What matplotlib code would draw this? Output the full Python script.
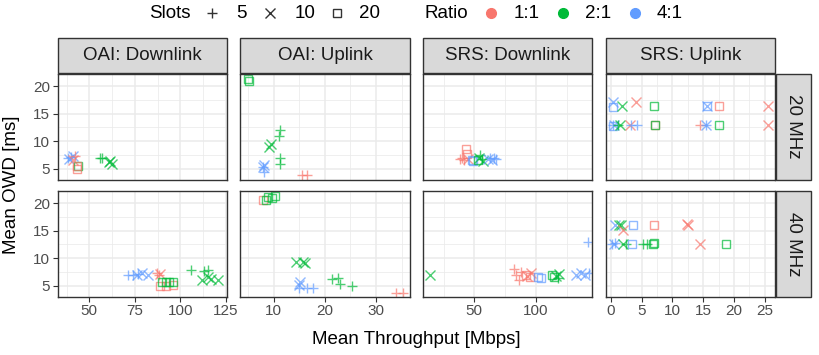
import matplotlib.pyplot as plt
from matplotlib.lines import Line2D
from matplotlib.patches import Rectangle
from matplotlib.ticker import MultipleLocator

plt.rcParams['font.family'] = ['Liberation Sans', 'DejaVu Sans']

systems = ['OAI', 'OAI', 'SRS', 'SRS']
links = ['Downlink', 'Uplink', 'Downlink', 'Uplink']
bandwidths = ['20 MHz', '40 MHz']
slot_levels = [5, 10, 20]
ratio_levels = ['1:1', '2:1', '4:1']
ratio_colors = ['#F8766D', '#00BA38', '#619CFF']

# (slots, ratio, mean throughput [Mbps], mean OWD [ms]) per facet
oai_dl_20 = [(5, '4:1', 38, 7.0), (5, '4:1', 40, 7.1), (10, '4:1', 39, 6.8), (10, '4:1', 41, 7.2),
             (5, '1:1', 42, 7.3), (10, '1:1', 41, 6.6), (20, '1:1', 43, 5.0), (20, '2:1', 43.5, 5.5),
             (20, '1:1', 43, 5.4), (5, '2:1', 56, 7.0), (5, '2:1', 57, 6.9), (10, '2:1', 61, 6.2),
             (10, '2:1', 62.5, 5.9), (10, '2:1', 61.5, 6.4)]
oai_ul_20 = [(20, '2:1', 5.1, 21.2), (20, '2:1', 5.2, 21.0), (5, '2:1', 11.3, 12.0), (5, '2:1', 11.0, 11.0),
             (10, '2:1', 9.2, 9.0), (10, '2:1', 9.4, 9.4), (5, '2:1', 11.2, 6.9), (5, '2:1', 11.2, 5.9),
             (10, '4:1', 8.0, 5.3), (10, '4:1', 8.2, 5.7), (5, '4:1', 8.1, 4.4), (5, '4:1', 8.0, 5.2),
             (5, '1:1', 15.6, 3.8), (5, '1:1', 16.6, 3.8)]
srs_dl_20 = [(20, '1:1', 43, 8.5), (20, '1:1', 44, 7.6), (5, '1:1', 38, 6.8), (5, '1:1', 40, 7.0),
             (5, '1:1', 42, 6.6), (10, '1:1', 45, 6.8), (20, '4:1', 48, 6.6), (20, '4:1', 49, 6.3),
             (20, '2:1', 53, 6.5), (5, '2:1', 55, 7.5), (5, '2:1', 56, 6.8), (10, '2:1', 57, 6.4),
             (10, '2:1', 54, 6.9), (10, '4:1', 61, 6.8), (10, '4:1', 64, 6.5), (5, '4:1', 66, 6.9),
             (5, '4:1', 68, 6.7), (5, '4:1', 63, 7.0)]
srs_ul_20 = [(10, '4:1', 0.3, 17.1), (20, '4:1', 0.4, 16.2), (10, '2:1', 1.8, 16.3), (10, '1:1', 4.0, 17.1),
             (20, '2:1', 7.0, 16.3), (20, '4:1', 15.6, 16.3), (10, '4:1', 15.6, 16.3), (20, '1:1', 17.6, 16.3),
             (10, '1:1', 25.5, 16.3), (5, '4:1', 0.4, 12.9), (10, '4:1', 0.5, 12.9), (20, '4:1', 0.3, 12.8),
             (10, '2:1', 1.5, 12.9), (5, '2:1', 1.2, 12.9), (10, '1:1', 3.1, 12.9), (5, '4:1', 4.2, 12.9),
             (5, '4:1', 3.2, 12.9), (20, '1:1', 7.1, 12.9), (20, '2:1', 7.1, 12.9), (5, '1:1', 14.5, 12.9),
             (5, '4:1', 15.5, 12.9), (10, '4:1', 15.5, 12.9), (20, '2:1', 17.6, 12.9), (10, '1:1', 25.5, 12.9)]
oai_dl_40 = [(5, '4:1', 71, 7.0), (5, '4:1', 74, 7.0), (5, '4:1', 77, 7.1), (10, '4:1', 76, 7.0),
             (10, '4:1', 79, 7.2), (10, '4:1', 82, 7.0), (5, '1:1', 87, 7.3), (5, '1:1', 88.5, 7.0),
             (10, '1:1', 89, 7.1), (20, '1:1', 89, 5.0), (20, '1:1', 92, 5.0), (20, '1:1', 96, 5.1),
             (20, '2:1', 90, 5.6), (20, '2:1', 92, 5.7), (20, '2:1', 94, 5.6), (20, '2:1', 96, 5.6),
             (5, '2:1', 106, 7.8), (5, '2:1', 113, 7.6), (5, '2:1', 115, 7.8), (10, '2:1', 112, 6.0),
             (10, '2:1', 115, 6.5), (10, '2:1', 117, 6.1), (10, '2:1', 121, 6.0)]
oai_ul_40 = [(20, '1:1', 8.0, 20.6), (20, '2:1', 8.5, 20.5), (20, '2:1', 9.0, 21.1), (20, '2:1', 10.2, 21.3),
             (20, '2:1', 9.6, 20.9), (10, '2:1', 14.4, 9.2), (10, '2:1', 15.7, 9.2), (10, '2:1', 16.2, 9.1),
             (10, '4:1', 15.2, 5.6), (10, '4:1', 15.0, 5.1), (5, '4:1', 15.0, 4.5), (5, '4:1', 16.5, 4.6),
             (5, '4:1', 17.6, 4.6), (5, '2:1', 21.5, 6.1), (5, '2:1', 22.5, 6.3), (5, '2:1', 23.0, 5.2),
             (5, '2:1', 25.3, 5.0), (5, '1:1', 34.0, 3.7), (5, '1:1', 35.2, 3.7)]
srs_dl_40 = [(10, '2:1', 14, 6.9), (5, '1:1', 82, 8.0), (5, '1:1', 84, 7.0), (5, '1:1', 86, 6.0),
             (5, '1:1', 88, 7.4), (20, '1:1', 92, 7.0), (20, '1:1', 95, 6.6), (10, '1:1', 93, 6.8),
             (10, '1:1', 96, 7.2), (20, '4:1', 102, 6.6), (20, '4:1', 104, 6.4), (20, '2:1', 113, 7.0),
             (20, '2:1', 115, 6.6), (10, '2:1', 116, 6.8), (10, '2:1', 119, 7.1), (5, '2:1', 118, 6.4),
             (10, '4:1', 133, 6.9), (10, '4:1', 137, 7.3), (10, '4:1', 140, 7.0), (5, '4:1', 143, 7.2),
             (5, '4:1', 142, 12.9)]
srs_ul_40 = [(10, '4:1', 0.6, 16.1), (10, '2:1', 1.3, 16.1), (10, '2:1', 1.6, 16.1), (20, '4:1', 3.5, 16.1),
             (20, '1:1', 7.0, 16.1), (10, '1:1', 12.3, 16.2), (10, '1:1', 12.6, 16.0), (10, '1:1', 2.0, 15.1),
             (5, '4:1', 0.1, 12.6), (5, '4:1', 0.6, 12.7), (10, '4:1', 0.5, 12.6), (5, '2:1', 2.5, 12.6),
             (5, '2:1', 5.2, 12.6), (5, '2:1', 5.8, 12.6), (10, '2:1', 1.9, 12.6), (20, '4:1', 3.4, 12.6),
             (20, '2:1', 6.8, 12.6), (20, '2:1', 7.0, 12.7), (10, '1:1', 14.5, 12.6), (20, '2:1', 18.7, 12.6)]

facets = [[oai_dl_20, oai_ul_20, srs_dl_20, srs_ul_20],
          [oai_dl_40, oai_ul_40, srs_dl_40, srs_ul_40]]

xlims = [(32.5, 125.7), (3.5, 36.6), (8.3, 146), (-0.86, 26.7)]
xmajor = [25, 10, 50, 5]
ylim = (3.0, 22.2)
markers = {5: '+', 10: 'x', 20: 's'}
msize = {5: 7.5, 10: 7, 20: 6.3}

W, H = 820, 355
fig = plt.figure(figsize=(W / 100, H / 100), dpi=100)


def box(x0, y0, x1, y1):
    return [x0 / W, 1 - y1 / H, (x1 - x0) / W, (y1 - y0) / H]


col_left = [57.5, 240.3, 423.0, 605.7]
col_w = 169.5
row_top = [74, 191]
row_h = 105.5
grey20 = '#333333'

for r in range(2):
    for c in range(4):
        ax = fig.add_axes(box(col_left[c], row_top[r], col_left[c] + col_w, row_top[r] + row_h))
        for s, rt, x, y in facets[r][c]:
            col = ratio_colors[ratio_levels.index(rt)]
            ax.plot(x, y, marker=markers[s], linestyle='none', alpha=0.7,
                    markersize=msize[s], markeredgewidth=1.0,
                    markerfacecolor='none', markeredgecolor=col)
        ax.set_xlim(*xlims[c])
        ax.set_ylim(*ylim)
        ax.xaxis.set_major_locator(MultipleLocator(xmajor[c]))
        ax.xaxis.set_minor_locator(MultipleLocator(xmajor[c] / 2))
        ax.yaxis.set_major_locator(MultipleLocator(5))
        ax.yaxis.set_minor_locator(MultipleLocator(2.5))
        ax.grid(which='major', color='#EBEBEB', linewidth=1.1)
        ax.grid(which='minor', color='#EBEBEB', linewidth=0.55)
        ax.set_axisbelow(True)
        for sp in ax.spines.values():
            sp.set_color(grey20)
            sp.set_linewidth(1.0)
        ax.tick_params(which='minor', length=0)
        ax.tick_params(which='major', length=3.5, width=0.8, color=grey20,
                       labelsize=11, labelcolor='#4D4D4D', pad=2)
        if r == 0:
            ax.tick_params(axis='x', labelbottom=False, length=0)
        if c > 0:
            ax.tick_params(axis='y', labelleft=False, length=0)

# facet strips
for c in range(4):
    fig.add_artist(Rectangle((col_left[c] / W, 1 - 73 / H), col_w / W, 35 / H,
                             transform=fig.transFigure, facecolor='#D9D9D9',
                             edgecolor=grey20, linewidth=1.0))
    fig.text((col_left[c] + col_w / 2) / W, 1 - 55.5 / H, f'{systems[c]}: {links[c]}',
             ha='center', va='center', fontsize=13.5, color='#1A1A1A')
for r, bw in enumerate(bandwidths):
    fig.add_artist(Rectangle((776.5 / W, 1 - (row_top[r] + row_h) / H), 34.5 / W, row_h / H,
                             transform=fig.transFigure, facecolor='#D9D9D9',
                             edgecolor=grey20, linewidth=1.0))
    fig.text(794 / W, 1 - (row_top[r] + row_h / 2) / H, bw, rotation=270,
             ha='center', va='center', fontsize=13.5, color='#1A1A1A')

fig.text((57.5 + 775) / 2 / W, 1 - 340 / H, 'Mean Throughput [Mbps]',
         ha='center', va='center', fontsize=13.5)
fig.text(12 / W, 1 - 185 / H, 'Mean OWD [ms]', rotation=90,
         ha='center', va='center', fontsize=13.5)

# legend row
ly = 1 - 13 / H
fig.text(170 / W, ly, 'Slots', ha='center', va='center', fontsize=13.5)
for xk, xt, s in zip([212, 270, 337], [241.7, 305, 370], slot_levels):
    fig.add_artist(Line2D([xk / W], [ly], transform=fig.transFigure, marker=markers[s],
                          markersize=msize[s] * (0.85 if s == 20 else 1.0), markeredgewidth=1.0,
                          markerfacecolor='none', markeredgecolor='#333333', linestyle='none'))
    fig.text(xt / W, ly, str(s), ha='center', va='center', fontsize=13.5)
fig.text(446.7 / W, ly, 'Ratio', ha='center', va='center', fontsize=13.5)
for xk, xt, lab, col in zip([491, 563, 635], [526.7, 598, 670], ratio_levels, ratio_colors):
    fig.add_artist(Line2D([xk / W], [ly], transform=fig.transFigure, marker='o',
                          markersize=7, markerfacecolor=col, markeredgecolor=col, linestyle='none'))
    fig.text(xt / W, ly, lab, ha='center', va='center', fontsize=13.5)

fig.savefig('out.png', dpi=100)
